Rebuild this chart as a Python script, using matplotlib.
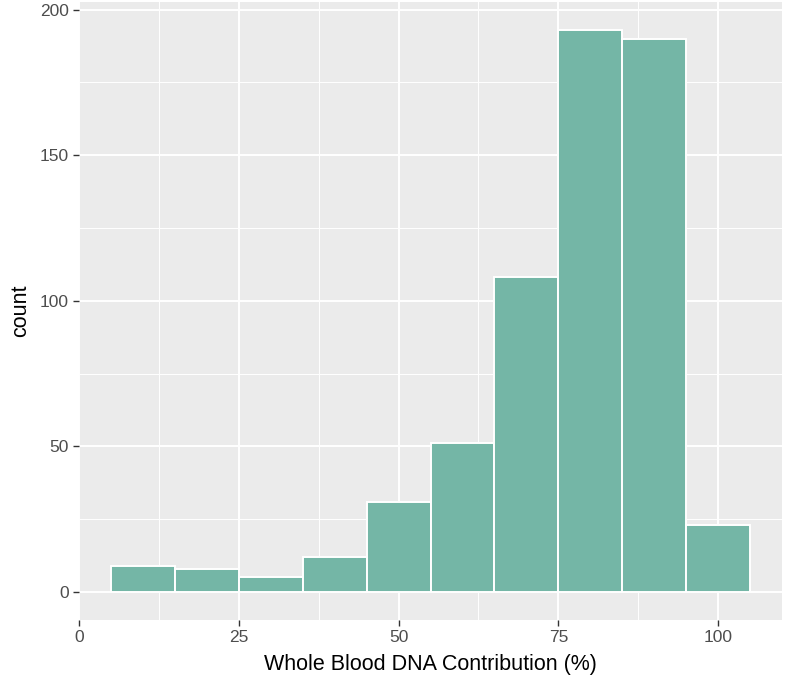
import matplotlib.pyplot as plt
import numpy as np

plt.rcParams['font.family'] = ['Liberation Sans', 'DejaVu Sans']

# Histogram bins (left edges, width 10) and counts
bin_edges = [5, 15, 25, 35, 45, 55, 65, 75, 85, 95, 105]
counts = [9, 8, 5, 12, 31, 51, 108, 193, 190, 23]

x_ticks = [0, 25, 50, 75, 100]
y_ticks = [0, 50, 100, 150, 200]

fig = plt.figure(figsize=(7.86, 6.86), dpi=100)
ax = fig.add_axes([0.1005, 0.0962, 0.8945, 0.901])

# ggplot-like grey panel with white grid
ax.set_facecolor('#EBEBEB')
for s in ax.spines.values():
    s.set_visible(False)
ax.set_axisbelow(True)
ax.set_xticks(x_ticks)
ax.set_yticks(y_ticks)
ax.set_xticks([12.5, 37.5, 62.5, 87.5], minor=True)
ax.set_yticks([25, 75, 125, 175], minor=True)
ax.grid(which='major', color='white', linewidth=1.4)
ax.grid(which='minor', color='white', linewidth=0.7)

edges = np.array(bin_edges)
ax.bar(edges[:-1], counts, width=np.diff(edges), align='edge',
       color='#74B6A6', edgecolor='white', linewidth=1.4)

ax.set_xlim(0, 110)
ax.set_ylim(-9.65, 202.65)

ax.tick_params(which='major', length=4, width=1, color='#333333',
               labelcolor='#4D4D4D', labelsize=12.5)
ax.tick_params(which='minor', length=0)

ax.set_xlabel('Whole Blood DNA Contribution (%)', fontsize=15.5, labelpad=6)
ax.set_ylabel('count', fontsize=15.5, labelpad=6)

fig.savefig('out.png', dpi=100)
